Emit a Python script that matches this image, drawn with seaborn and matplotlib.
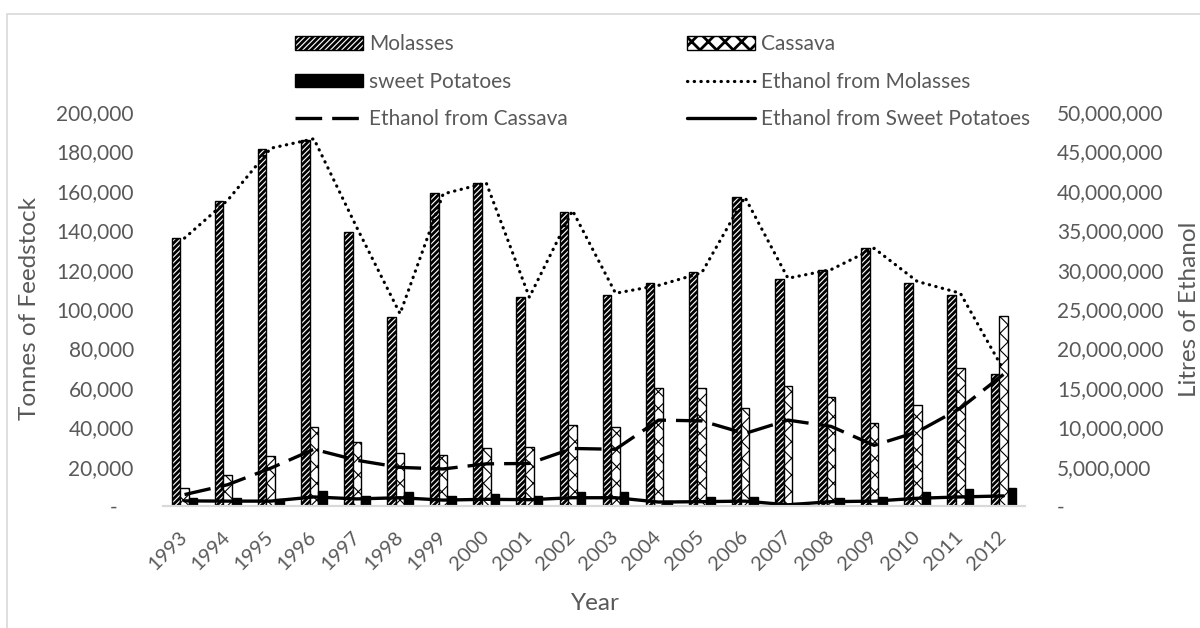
import matplotlib
matplotlib.use("Agg")
import matplotlib.pyplot as plt
import matplotlib.patches as mpatches
from matplotlib.lines import Line2D
from matplotlib.ticker import FuncFormatter, MultipleLocator
import seaborn as sns
import pandas as pd

# Feedstock processed (tonnes) and ethanol produced (litres), 1993-2012
years = [str(y) for y in range(1993, 2013)]
molasses = [136000, 155000, 181000, 186000, 139000, 96000, 159000, 164000, 106000, 149000,
            107000, 113000, 119000, 157000, 115000, 120000, 131000, 113000, 107000, 67000]
cassava = [9000, 15500, 25500, 40000, 32500, 27000, 26000, 29500, 30000, 41000,
           40000, 60000, 60000, 50000, 61000, 55500, 42000, 51500, 70000, 96500]
sweet_potatoes = [4000, 4000, 3500, 7500, 5000, 7000, 5000, 6000, 5000, 7000,
                  7000, 2500, 4500, 4500, 1500, 4000, 4500, 7000, 8500, 9000]

eth_molasses = [34.0e6, 38.8e6, 45.4e6, 46.6e6, 35.3e6, 24.4e6, 39.6e6, 41.0e6, 26.5e6, 37.5e6,
                27.0e6, 28.0e6, 29.6e6, 39.2e6, 28.9e6, 30.0e6, 32.7e6, 28.5e6, 27.0e6, 17.3e6]
eth_cassava = [1.45e6, 2.7e6, 4.8e6, 7.2e6, 5.8e6, 4.9e6, 4.7e6, 5.35e6, 5.4e6, 7.3e6,
               7.2e6, 10.9e6, 10.8e6, 9.2e6, 10.9e6, 10.1e6, 7.7e6, 9.4e6, 12.4e6, 16.7e6]
eth_sweet = [0.65e6, 0.62e6, 0.62e6, 1.15e6, 0.9e6, 1.05e6, 0.75e6, 0.85e6, 0.8e6, 1.05e6,
             1.05e6, 0.5e6, 0.55e6, 0.62e6, 0.15e6, 0.55e6, 0.62e6, 0.98e6, 1.15e6, 1.28e6]

feed_names = ["Molasses", "Cassava", "sweet Potatoes"]

sns.set_theme(style="white")
plt.rcParams["font.family"] = ["Lato", "DejaVu Sans"]
plt.rcParams["hatch.linewidth"] = 2.0

TEXT = "#595959"
GRID = "#d9d9d9"
W, H = 1200, 628
TICK_FS = 15
XTICK_FS = 14.5
TITLE_FS = 17.5

fig = plt.figure(figsize=(W / 100, H / 100), dpi=100)
fig.patch.set_facecolor("white")

# thin frame around the chart area (runs off the right and bottom edges)
fig.add_artist(mpatches.Rectangle((7 / W, -0.05), 1.1, (H - 14) / H + 0.05,
                                  transform=fig.transFigure, fill=False,
                                  edgecolor=GRID, linewidth=1.2))

x0, x1, ytop, ybot = 163, 1025, 112, 506
ax = fig.add_axes([x0 / W, 1 - ybot / H, (x1 - x0) / W, (ybot - ytop) / H])

feed_df = pd.DataFrame({
    "Year": years * 3,
    "Tonnes": molasses + cassava + sweet_potatoes,
    "Feedstock": [n for n in feed_names for _ in years],
})

sns.barplot(data=feed_df, x="Year", y="Tonnes", hue="Feedstock", hue_order=feed_names,
            palette={"Molasses": "white", "Cassava": "white", "sweet Potatoes": "black"},
            edgecolor="black", linewidth=1.0, width=0.6, gap=0, saturation=1,
            errorbar=None, legend=False, ax=ax, zorder=2)

HATCH_MOL, HATCH_CAS = "//////", "xx"
hatches = {0: HATCH_MOL, 1: HATCH_CAS}
hatch_lw = {0: 2.0, 1: 0.8}
for i, cont in enumerate(ax.containers):
    for bar in cont:
        if i in hatches:
            bar.set_hatch(hatches[i])
            if hasattr(bar, "set_hatch_linewidth"):
                bar.set_hatch_linewidth(hatch_lw[i])

ax.set_ylim(0, 200000)
ax.set_xlim(-0.5, len(years) - 0.5)
ax.yaxis.set_major_locator(MultipleLocator(20000))
ax.yaxis.set_major_formatter(FuncFormatter(lambda v, p: "-   " if v == 0 else f"{v:,.0f}"))

# ethanol output on the secondary axis
ax2 = ax.twinx()
pos = list(range(len(years)))
eth_df = pd.DataFrame({"pos": pos, "mol": eth_molasses, "cas": eth_cassava, "swp": eth_sweet})
DOT = (0, (0.1, 2.0))
DASH = (0, (8, 3))
sns.lineplot(data=eth_df, x="pos", y="mol", ax=ax2, color="black", linewidth=2.3)
sns.lineplot(data=eth_df, x="pos", y="cas", ax=ax2, color="black", linewidth=2.4)
sns.lineplot(data=eth_df, x="pos", y="swp", ax=ax2, color="black", linewidth=2.4)
l_mol, l_cas, l_swp = ax2.lines[-3:]
l_mol.set_linestyle(DOT)
l_mol.set_dash_capstyle("round")
l_cas.set_linestyle(DASH)
l_cas.set_dash_capstyle("butt")

ax2.set_ylim(0, 50_000_000)
ax2.set_xlim(-0.5, len(years) - 0.5)
ax2.yaxis.set_major_locator(MultipleLocator(5_000_000))
ax2.yaxis.set_major_formatter(FuncFormatter(lambda v, p: "-" if v == 0 else f"{v:,.0f}"))
ax2.set_xlabel("")
ax2.set_ylabel("")

for a in (ax, ax2):
    for s in ("top", "left", "right"):
        a.spines[s].set_visible(False)
    a.spines["bottom"].set_color(GRID)
    a.spines["bottom"].set_linewidth(1.5)
    a.tick_params(length=0, colors=TEXT, labelsize=TICK_FS)
    a.grid(False)

ax.set_xlabel("")
ax.set_ylabel("")
ax.tick_params(axis="y", pad=21)
ax2.tick_params(axis="y", pad=23)
ax.tick_params(axis="x", pad=20, labelsize=XTICK_FS)
for lab in ax.get_xticklabels():
    lab.set_rotation(45)
    lab.set_ha("right")
    lab.set_va("center")
    lab.set_rotation_mode("anchor")

fig.text(30 / W, 1 - 309 / H, "Tonnes of Feedstock", rotation=90, ha="center", va="center",
         fontsize=TITLE_FS, color=TEXT)
fig.text(1190 / W, 1 - 309 / H, "Litres of Ethanol", rotation=90, ha="center", va="center",
         fontsize=TITLE_FS, color=TEXT)
fig.text(595 / W, 1 - 604 / H, "Year", ha="center", va="center", fontsize=TITLE_FS,
         color=TEXT)

# two-column legend above the plot
h_mol = mpatches.Patch(facecolor="white", edgecolor="black", hatch=HATCH_MOL, label="Molasses")
h_cas = mpatches.Patch(facecolor="white", edgecolor="black", hatch=HATCH_CAS, label="Cassava")
h_swp = mpatches.Patch(facecolor="black", edgecolor="black", label="sweet Potatoes")
h_emol = Line2D([], [], color="black", linewidth=2.3, linestyle=DOT,
                dash_capstyle="round", label="Ethanol from Molasses")
h_ecas = Line2D([], [], color="black", linewidth=2.4, linestyle=DASH,
                label="Ethanol from Cassava")
h_eswp = Line2D([], [], color="black", linewidth=2.4, label="Ethanol from Sweet Potatoes")
for h, lw in ((h_mol, 2.0), (h_cas, 0.8)):
    if hasattr(h, "set_hatch_linewidth"):
        h.set_hatch_linewidth(lw)

common = dict(frameon=False, fontsize=TICK_FS, labelcolor=TEXT, handlelength=3.27,
              handleheight=0.65, handletextpad=0.3, labelspacing=0.83,
              borderaxespad=0, borderpad=0)
leg1 = fig.legend(handles=[h_mol, h_swp, h_ecas], loc="upper left",
                  bbox_to_anchor=(295 / W, 1 - 34.5 / H), **common)
leg2 = fig.legend(handles=[h_cas, h_emol, h_eswp], loc="upper left",
                  bbox_to_anchor=(687 / W, 1 - 34.5 / H), **common)

fig.savefig("out.png", dpi=100, facecolor="white")
